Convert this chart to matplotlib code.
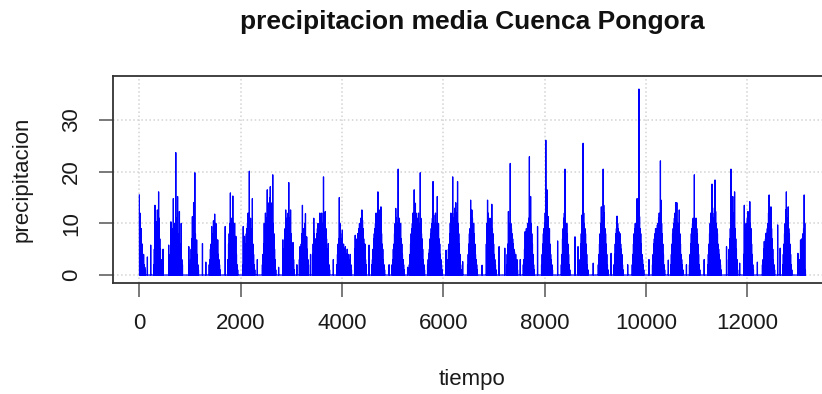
import numpy as np
import matplotlib.pyplot as plt

plt.rcParams['font.family'] = ['Liberation Sans', 'DejaVu Sans']

# daily mean precipitation
n_days = 13149
step = 12  # days between the readings inside a wet season

season_start = [1, 285, 600, 1000, 1380, 1750, 2040, 2430, 2830, 3160, 3420, 3900,
                4250, 4590, 4990, 5330, 5690, 6090, 6480, 6850, 7250, 7580, 7940,
                8330, 8700, 9060, 9370, 9730, 10130, 10490, 10860, 11220, 11630,
                11930, 12300, 12700, 13040]

season_values = [
    [15.5, 12, 7, 9, 5, 6, 3, 4, 2, 1.5, 1],
    [2, 5, 13.5, 8, 6, 10.3, 12.6, 9, 16.1, 11, 7, 5, 3, 2, 1],
    [2, 4, 10.3, 6, 8, 9, 14.8, 9, 10, 8, 23.7, 11, 9, 15.2, 8, 7, 12.3, 6, 5, 10, 3, 2],
    [2, 3, 5, 7, 11.3, 8, 14, 9, 19.8, 8, 6, 6.8, 4, 2, 1],
    [2, 3, 5, 6, 9.4, 7, 8, 10.5, 9, 11.8, 8, 10, 7, 6, 6.8, 4, 3, 2, 1],
    [3, 6, 8, 10, 15.9, 9, 11, 10, 15.3, 10, 8, 10, 6, 7.5, 4, 2, 1],
    [2, 9.4, 3, 7.5, 4, 6, 8, 9, 10, 12, 9, 20.1, 10, 11, 9, 8, 14.8, 6, 4, 2, 1],
    [2, 4, 6, 10, 8, 12, 11, 9, 16.5, 13, 12, 14, 15, 17.1, 14, 13, 12, 19.4, 10, 8, 5, 3, 1],
    [6.8, 3, 5, 7, 9, 12.6, 10, 11, 10, 12, 17.9, 11, 9, 12.6, 8, 6, 5, 6.3, 3, 1],
    [3, 5.5, 4, 6, 8, 13.5, 9, 7, 6, 10, 11.9, 7, 7.4, 5, 3, 2],
    [4, 6, 11, 8, 6, 7, 5, 8, 9, 10, 8, 9, 12, 11, 10, 12, 9, 10, 19, 11, 12, 12.3,
     9, 7, 5, 4, 6.1, 2, 1],
    [2, 4, 6, 7, 15, 10, 8, 6, 7, 8.7, 5, 6, 4, 5, 5.5, 3, 4, 5, 3, 4, 2, 3, 4, 2, 1],
    [5, 7.7, 6, 4, 7, 8, 6, 9, 10, 8, 11, 9, 12.6, 10.6, 9, 7, 5, 6, 3, 2],
    [2, 3, 5, 7, 8, 9, 10, 12, 11, 9, 16.1, 10, 12.6, 11, 9, 13.2, 8, 6, 5, 3, 2, 1],
    [2, 3, 5, 6, 8, 10, 12.9, 11, 9, 10, 20.5, 9, 11, 8, 10, 7, 6, 4, 3, 2, 1],
    [2, 4, 6, 8, 9, 10, 12, 10, 16.5, 11, 13.9, 12, 9, 10, 11, 12, 10, 9, 19.8, 11,
     8, 7, 5, 3, 2, 1],
    [2, 3, 4.2, 5, 7, 8, 9, 10, 11, 18.1, 11.6, 9, 10, 12, 10, 9, 15.2, 8, 10, 7, 6,
     4, 3, 2, 1],
    [3, 5, 6, 8, 10, 12, 11, 9, 19, 10, 11, 12, 13, 14, 12, 11, 18.1, 10, 8, 6, 4, 2, 1],
    [2, 4, 6, 8, 9, 14.5, 10, 12.6, 11, 9, 10, 8, 6, 4, 3, 2, 1],
    [6, 10, 14.5, 12, 10, 9, 11, 8, 10, 13.7, 9, 8, 6, 4, 3, 2, 1],
    [2, 4, 6, 12.3, 10, 8, 21.6, 10, 9, 8, 7, 6, 5, 4.5, 3, 4, 2, 3, 1],
    [2, 3, 5, 8.4, 7, 9, 8, 10, 9, 11, 22.9, 12, 15.2, 10, 8, 6, 4, 2, 1],
    [2, 4, 6, 8, 9, 10, 12, 26.1, 13, 16.5, 10, 11.3, 8, 9, 6, 4, 3, 2, 1],
    [2, 4, 7, 9, 11, 12, 20.5, 10, 9, 10, 8, 6, 4, 2, 1],
    [3, 6, 8, 11.6, 10, 25.5, 12, 10, 9, 8, 6, 4, 2, 1],
    [2, 4, 6, 8, 10, 13.2, 11, 10, 20.5, 13.5, 12, 9, 8, 6, 4, 2, 1],
    [2, 4, 6, 8, 9, 11.4, 10, 9, 8.4, 7, 8, 6, 5, 4, 2, 1],
    [2, 4, 6, 8, 9, 10, 8, 9, 14.8, 10, 11, 36, 11.3, 9, 8, 6, 4, 3, 2, 1],
    [2, 4, 6, 7, 8, 9, 8, 9, 9.7, 10, 11, 12, 10, 22.1, 14.5, 10, 8, 6, 4, 2, 1],
    [2, 4, 6, 8, 9, 10, 11, 12, 14, 11, 14, 10, 9, 10, 12.6, 8, 6, 4, 3, 2, 1],
    [2, 4, 6, 8, 9, 10, 11, 9, 19.4, 11, 10, 11, 9, 8, 6, 4, 2, 1],
    [2, 4, 6, 8, 10, 12, 11, 17.6, 12, 10, 11, 13, 18.4, 12.3, 10, 9, 8, 6, 5, 4, 3, 2, 1],
    [3, 5, 7, 9, 20.5, 12, 10, 15.2, 11, 12, 16.1, 9, 7, 5, 3, 1],
    [4, 13.5, 9, 8, 10, 9, 11, 12.3, 10, 9, 14.2, 10, 9, 6, 4, 2, 1],
    [2, 3, 5, 6.5, 5, 7, 8.1, 7, 9, 10, 12, 15.5, 11, 10, 13.2, 9, 7, 5, 3, 2, 1],
    [2, 4, 6, 8, 10, 12.6, 16.1, 11, 10, 13.2, 9, 8, 6, 4, 2, 1],
    [3, 6.8, 5, 7, 6, 8, 9, 15.5, 10, 1],
]

# isolated showers in the dry months
dry_days = [160, 225, 470, 580, 977, 1247, 1313, 1696, 2330, 2750, 3110, 3380, 3830,
            4535, 4931, 5296, 6053, 6383, 6766, 7102, 7214, 7520, 7861, 8257, 8600,
            8660, 8960, 9313, 9640, 10060, 10442, 10800, 11150, 11591, 11850, 12200,
            12600, 12650, 13000]
dry_values = [3.5, 5.8, 5, 5.8, 5.5, 6.1, 2.5, 9.4, 3, 1.5, 2, 4, 3,
              5.8, 2, 1.5, 4.8, 2.6, 1.9, 5.5, 5.2, 3, 9.4, 6.6, 7.4,
              5.5, 2.3, 4.2, 2, 3, 2.9, 2, 3, 5.5, 2.3, 2.5,
              9.7, 5.2, 4.2]

precip = np.zeros(n_days)
for start, vals in zip(season_start, season_values):
    for i, v in enumerate(vals):
        precip[start - 1 + step * i] = v
for d, v in zip(dry_days, dry_values):
    precip[d - 1] = v
tiempo = np.arange(1, n_days + 1)

fig = plt.figure(figsize=(8.22, 3.94), dpi=100)
ax = fig.add_axes([0.1371, 0.2825, 0.8752, 0.5254])

ax.plot(tiempo, precip, color='blue', lw=0.9)

ax.set_xlim(-525, 13675)
ax.set_ylim(-1.48, 38.58)
ax.set_xticks([0, 2000, 4000, 6000, 8000, 10000, 12000])
ax.set_yticks([0, 10, 20, 30])
ax.grid(True, color='lightgray', linestyle=':', lw=1.1)
ax.set_axisbelow(True)

for s in ax.spines.values():
    s.set_color('#333333')
    s.set_linewidth(1.3)
ax.tick_params(direction='out', length=10, width=1.1, color='#555555',
               labelsize=16, pad=12, labelcolor='#1a1a1a')
for lab in ax.get_yticklabels():
    lab.set_rotation(90)
    lab.set_va('center')

ax.set_xlabel('tiempo', fontsize=16, color='#1a1a1a')
ax.set_ylabel('precipitacion', fontsize=16, color='#1a1a1a')
ax.xaxis.set_label_coords(0.5, -0.47)
ax.xaxis.label.set_va('center')
ax.yaxis.set_label_coords(-0.126, 0.5)
ax.yaxis.label.set_va('center')

fig.text(0.574, 0.944, 'precipitacion media Cuenca Pongora', fontsize=19,
         fontweight='bold', ha='center', va='center', color='#111111')

fig.savefig('out.png', dpi=100)
